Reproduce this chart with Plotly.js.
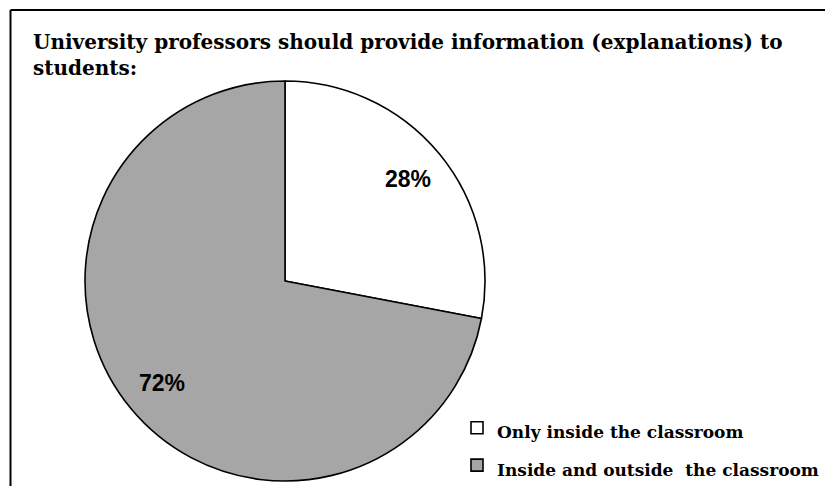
<!DOCTYPE html>
<html>
<head>
<meta charset="utf-8">
<script src="https://cdn.plot.ly/plotly-3.0.1.min.js"></script>
<style>
html,body{margin:0;padding:0;background:#fff;}
#chart{width:825px;height:486px;}
</style>
</head>
<body>
<div id="chart"></div>
<script>
const chartTitle = "University professors should provide information (explanations) to<br>students:";
const categories = ["Only inside the classroom", "Inside and outside  the classroom"];
const values = [28, 72];
const sliceColors = ["#ffffff", "#a6a6a6"];

const W = 825, H = 486;
const cx = 285, cy = 281, r = 200;
const domX = [(cx - r) / W, (cx + r) / W];
const domY = [1 - (cy + r) / H, 1 - (cy - r) / H];

// legend labels built from the categories (smaller text inside a taller legend row)
const legendLabels = categories.map(c => '<span style="font-size:17px">' + c.replace(/  /g, ' &nbsp;') + '</span>');

const trace = {
  type: "pie",
  labels: legendLabels,
  values: values,
  sort: false,
  direction: "clockwise",
  rotation: 0,
  marker: { colors: sliceColors, line: { color: "#000000", width: 1.6 } },
  textinfo: "none",
  hoverinfo: "none",
  domain: { x: domX, y: domY }
};

// percentage labels placed at each slice's mid-angle, computed from the values
const total = values.reduce((a, b) => a + b, 0);
let cum = 0;
const annotations = values.map(v => {
  const mid = (cum + v / 2) / total * 2 * Math.PI; // clockwise from 12 o'clock
  cum += v;
  const rr = 0.8 * r;
  const px = cx + rr * Math.sin(mid);
  const py = cy - rr * Math.cos(mid);
  return {
    x: px / W, y: 1 - py / H, xref: "paper", yref: "paper",
    text: Math.round(v / total * 100) + "%",
    showarrow: false, xanchor: "center", yanchor: "middle",
    font: { family: "Liberation Sans, Arial, sans-serif", size: 23, color: "#000000", weight: "bold" }
  };
});

const layout = {
  width: W, height: H,
  margin: { l: 0, r: 0, t: 0, b: 0, autoexpand: false },
  paper_bgcolor: "#ffffff",
  showlegend: true,
  title: {
    text: chartTitle,
    x: 33 / W, xanchor: "left", xref: "paper",
    y: 1 - 49 / H, yanchor: "top", yref: "container",
    font: { family: "DejaVu Serif, serif", size: 20, color: "#000000", weight: "bold" },
    automargin: false
  },
  legend: {
    x: 457 / W, xanchor: "left",
    y: 1 - 404 / H, yanchor: "top",
    font: { family: "DejaVu Serif, serif", size: 26.5, color: "#000000", weight: "bold" },
    itemwidth: 30,
    bgcolor: "rgba(0,0,0,0)"
  },
  annotations: annotations,
  shapes: [
    { type: "line", xref: "paper", yref: "paper", x0: 10.5 / W, x1: 1.05, y0: 1 - 10 / H, y1: 1 - 10 / H, line: { color: "#000000", width: 2 } },
    { type: "line", xref: "paper", yref: "paper", x0: 10.5 / W, x1: 10.5 / W, y0: 1 - 10 / H, y1: -0.05, line: { color: "#000000", width: 2 } }
  ]
};

Plotly.newPlot("chart", [trace], layout, { displayModeBar: false, staticPlot: true });
</script>
</body>
</html>
